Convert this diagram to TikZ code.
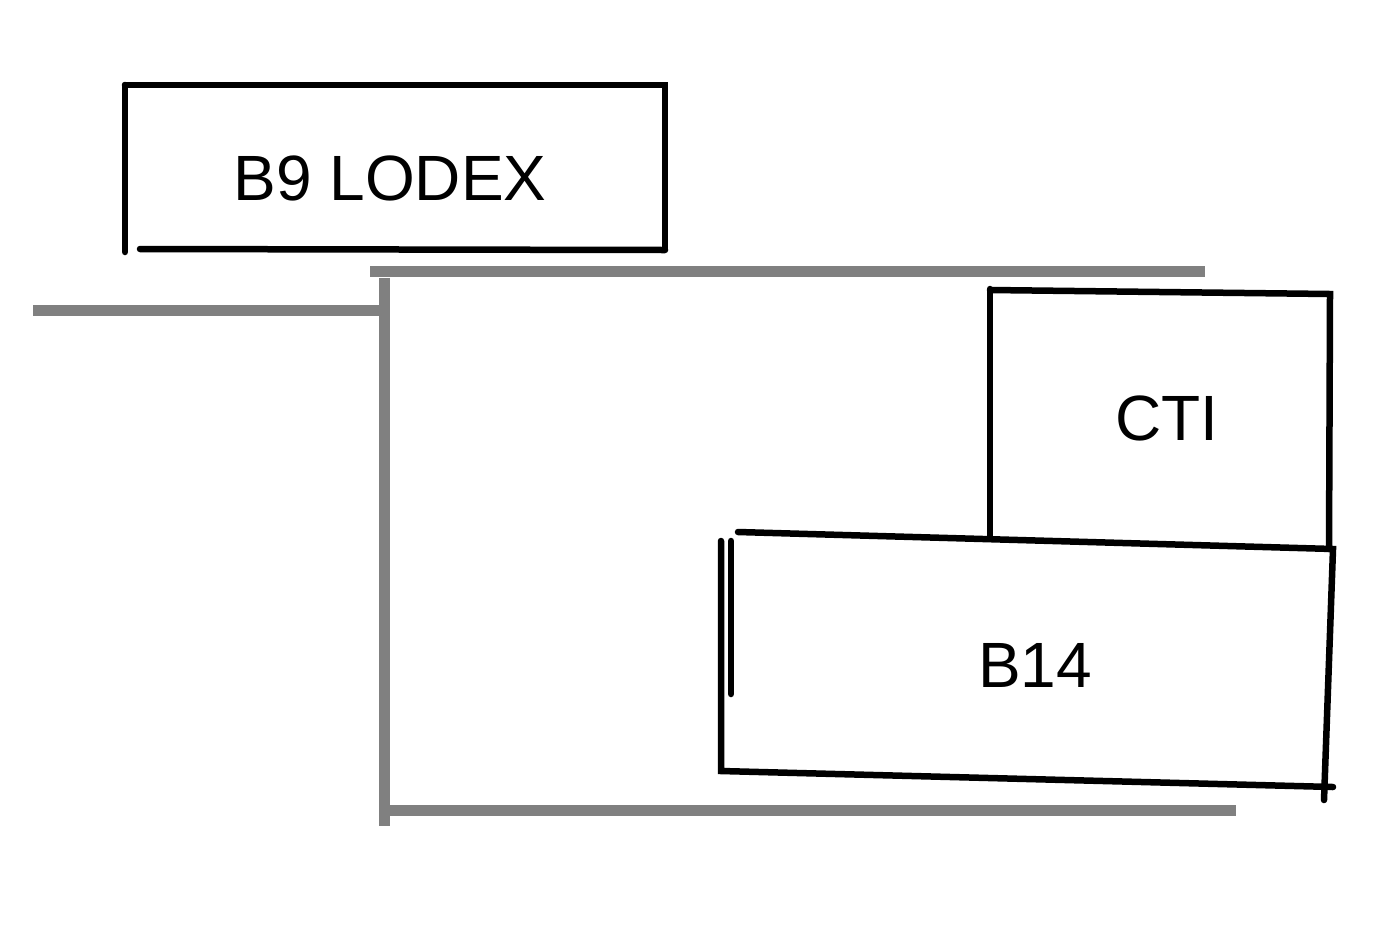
\documentclass[tikz,border=0pt]{standalone}
\usepackage{fontspec}
\setmainfont{Liberation Sans}

\begin{document}
\begin{tikzpicture}[x=1pt,y=-1pt,
	wall/.style={draw=gray, line width=11pt},
	edge/.style={draw=black, line width=6.5pt, line cap=round},
	room/.style={font=\fontsize{64}{70}\selectfont}]
	
	\useasboundingbox (0,0) rectangle (1383,935);
	
	% walls
	\draw[wall] (370,271) -- (1205,271);
	\draw[wall] (33,310) -- (384,310);
	\draw[wall] (384,278) -- (384,826);
	\draw[wall] (390,810) -- (1236,810);
	
	% B9 LODEX
	\draw[edge] (125,85) -- (125,252);
	\draw[edge] (125,85) -- (665,85) -- (665,249);
	\draw[edge] (140,249) -- (665,250);
	\node[room] (lodex) at (390,178) {B9 LODEX};
	
	% CTI
	\draw[edge] (990,289) -- (990,538);
	\draw[edge] (990,290) -- (1330,294) -- (1329,549);
	\node[room] (cti) at (1167,418) {CTI};
	
	% B14
	\draw[edge] (738,532) -- (1333,549) -- (1324,800);
	\draw[edge] (721,541) -- (721,771) -- (1333,787);
	\draw[edge] (731,541) -- (731,694);
	\node[room] (b14) at (1035,665) {B14};
	
\end{tikzpicture}
\end{document}
